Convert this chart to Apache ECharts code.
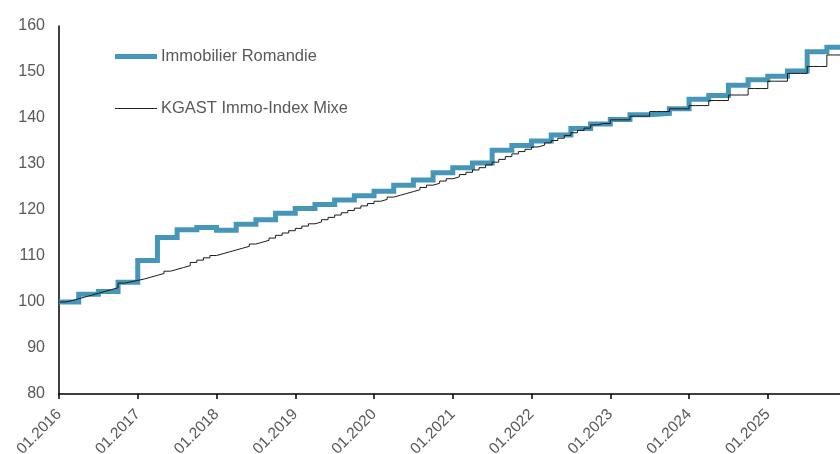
<!DOCTYPE html>
<html>
<head>
<meta charset="utf-8">
<script src="https://cdn.jsdelivr.net/npm/echarts@6/dist/echarts.min.js"></script>
<style>
html,body{margin:0;padding:0;background:#fff;}
#chart{width:840px;height:454px;}
</style>
</head>
<body>
<div id="chart"></div>
<script>
// Monthly categories 01.2016 .. 12.2025
const years = [2016,2017,2018,2019,2020,2021,2022,2023,2024,2025];
const months = ['01','02','03','04','05','06','07','08','09','10','11','12'];
const categories = [];
years.forEach(function(y){ months.forEach(function(m){ categories.push(m + '.' + y); }); });

// Immobilier Romandie (quarterly updates)
const romandieDates = ['01.2016','04.2016','07.2016','10.2016','01.2017','04.2017','07.2017','10.2017',
  '01.2018','04.2018','07.2018','10.2018','01.2019','04.2019','07.2019','10.2019',
  '01.2020','04.2020','07.2020','10.2020','01.2021','04.2021','07.2021','10.2021',
  '01.2022','04.2022','07.2022','10.2022','01.2023','04.2023','07.2023','10.2023',
  '01.2024','04.2024','07.2024','10.2024','01.2025','04.2025','07.2025','10.2025','12.2025'];
const romandieValues = [100.0,101.7,102.3,104.3,109.0,114.0,115.7,116.2,
  115.6,116.9,117.9,119.3,120.3,121.2,122.2,123.1,
  124.1,125.4,126.5,128.1,129.2,130.2,133.0,134.0,
  135.0,136.3,137.7,138.7,139.7,140.7,141.0,142.0,
  144.1,144.9,147.1,148.3,149.1,150.2,154.4,155.4,155.4];

// KGAST Immo-Index Mixe (monthly)
const kgastValues = [
  100.0,100.3,100.7,101.1,101.5,101.9,102.3,102.7,103.1,104.1,104.4,104.7,
  105.0,105.4,105.8,106.2,106.7,107.1,107.5,107.9,108.6,109.1,109.6,110.1,
  110.5,110.9,111.3,111.7,112.1,112.6,113.0,113.4,113.9,114.5,115.0,115.5,
  116.0,116.5,117.0,117.4,117.9,118.4,118.9,119.4,119.9,120.4,120.9,121.4,
  121.9,122.3,122.8,123.2,123.6,124.0,124.4,124.9,125.4,125.8,126.3,126.8,
  127.2,127.7,128.2,128.7,129.2,129.8,130.4,131.0,131.6,132.2,132.7,133.2,
  133.7,134.1,134.6,135.1,135.6,136.2,136.8,137.3,137.8,138.5,138.8,138.8,
  139.6,139.6,139.6,140.4,140.4,140.4,141.4,141.4,141.4,142.0,142.0,142.0,
  142.7,142.7,142.7,143.8,143.8,143.8,145.0,145.0,145.0,146.4,146.4,146.4,
  148.0,148.0,148.0,149.7,149.7,149.7,151.2,151.2,151.2,153.7,153.7,153.7];

const yTicks = {min: 80, max: 160, interval: 10};

const romandieData = romandieDates.map(function(d, i){ return [d, romandieValues[i]]; });

const chart = echarts.init(document.getElementById('chart'), null, {renderer: 'canvas'});
const font = 'Liberation Sans, Arial, sans-serif';
chart.setOption({
  animation: false,
  backgroundColor: '#ffffff',
  grid: {left: 59, right: 0, top: 26, bottom: 60, containLabel: false, outerBoundsMode: 'none'},
  legend: {
    orient: 'vertical',
    left: 110,
    top: 43,
    itemWidth: 42,
    itemHeight: 14,
    itemGap: 35,
    textStyle: {color: '#595959', fontSize: 16.5, fontFamily: font, padding: [0,0,0,-1]},
    data: [
      {name: 'Immobilier Romandie', icon: 'path://M0,0 L42,0 L42,5 L0,5 Z', itemStyle: {color: '#4596b9'}},
      {name: 'KGAST Immo-Index Mixe', icon: 'path://M0,0 L42,0 L42,1 L0,1 Z', itemStyle: {color: '#262626'}}
    ]
  },
  xAxis: {
    type: 'category',
    data: categories,
    boundaryGap: false,
    axisLine: {lineStyle: {color: '#000000', width: 1.5}},
    axisTick: {show: true, interval: 11, length: 5, lineStyle: {color: '#000000', width: 1.5}},
    axisLabel: {interval: 11, rotate: 45, color: '#595959', fontSize: 15.5, fontFamily: font, margin: 18},
    splitLine: {show: false}
  },
  yAxis: {
    type: 'value',
    min: yTicks.min,
    max: yTicks.max,
    interval: yTicks.interval,
    axisLine: {show: true, lineStyle: {color: '#000000', width: 1.5}},
    axisTick: {show: false},
    axisLabel: {color: '#595959', fontSize: 16, fontFamily: font, margin: 14},
    splitLine: {show: false}
  },
  series: [
    {
      name: 'KGAST Immo-Index Mixe',
      type: 'line',
      step: 'end',
      data: kgastValues,
      symbol: 'none',
      z: 3,
      lineStyle: {color: '#1a1a1a', width: 1},
      itemStyle: {color: '#262626'}
    },
    {
      name: 'Immobilier Romandie',
      type: 'line',
      step: 'end',
      data: romandieData,
      symbol: 'none',
      z: 2,
      lineStyle: {color: '#4596b9', width: 5, join: 'miter'},
      itemStyle: {color: '#4596b9'}
    }
  ]
});
</script>
</body>
</html>
